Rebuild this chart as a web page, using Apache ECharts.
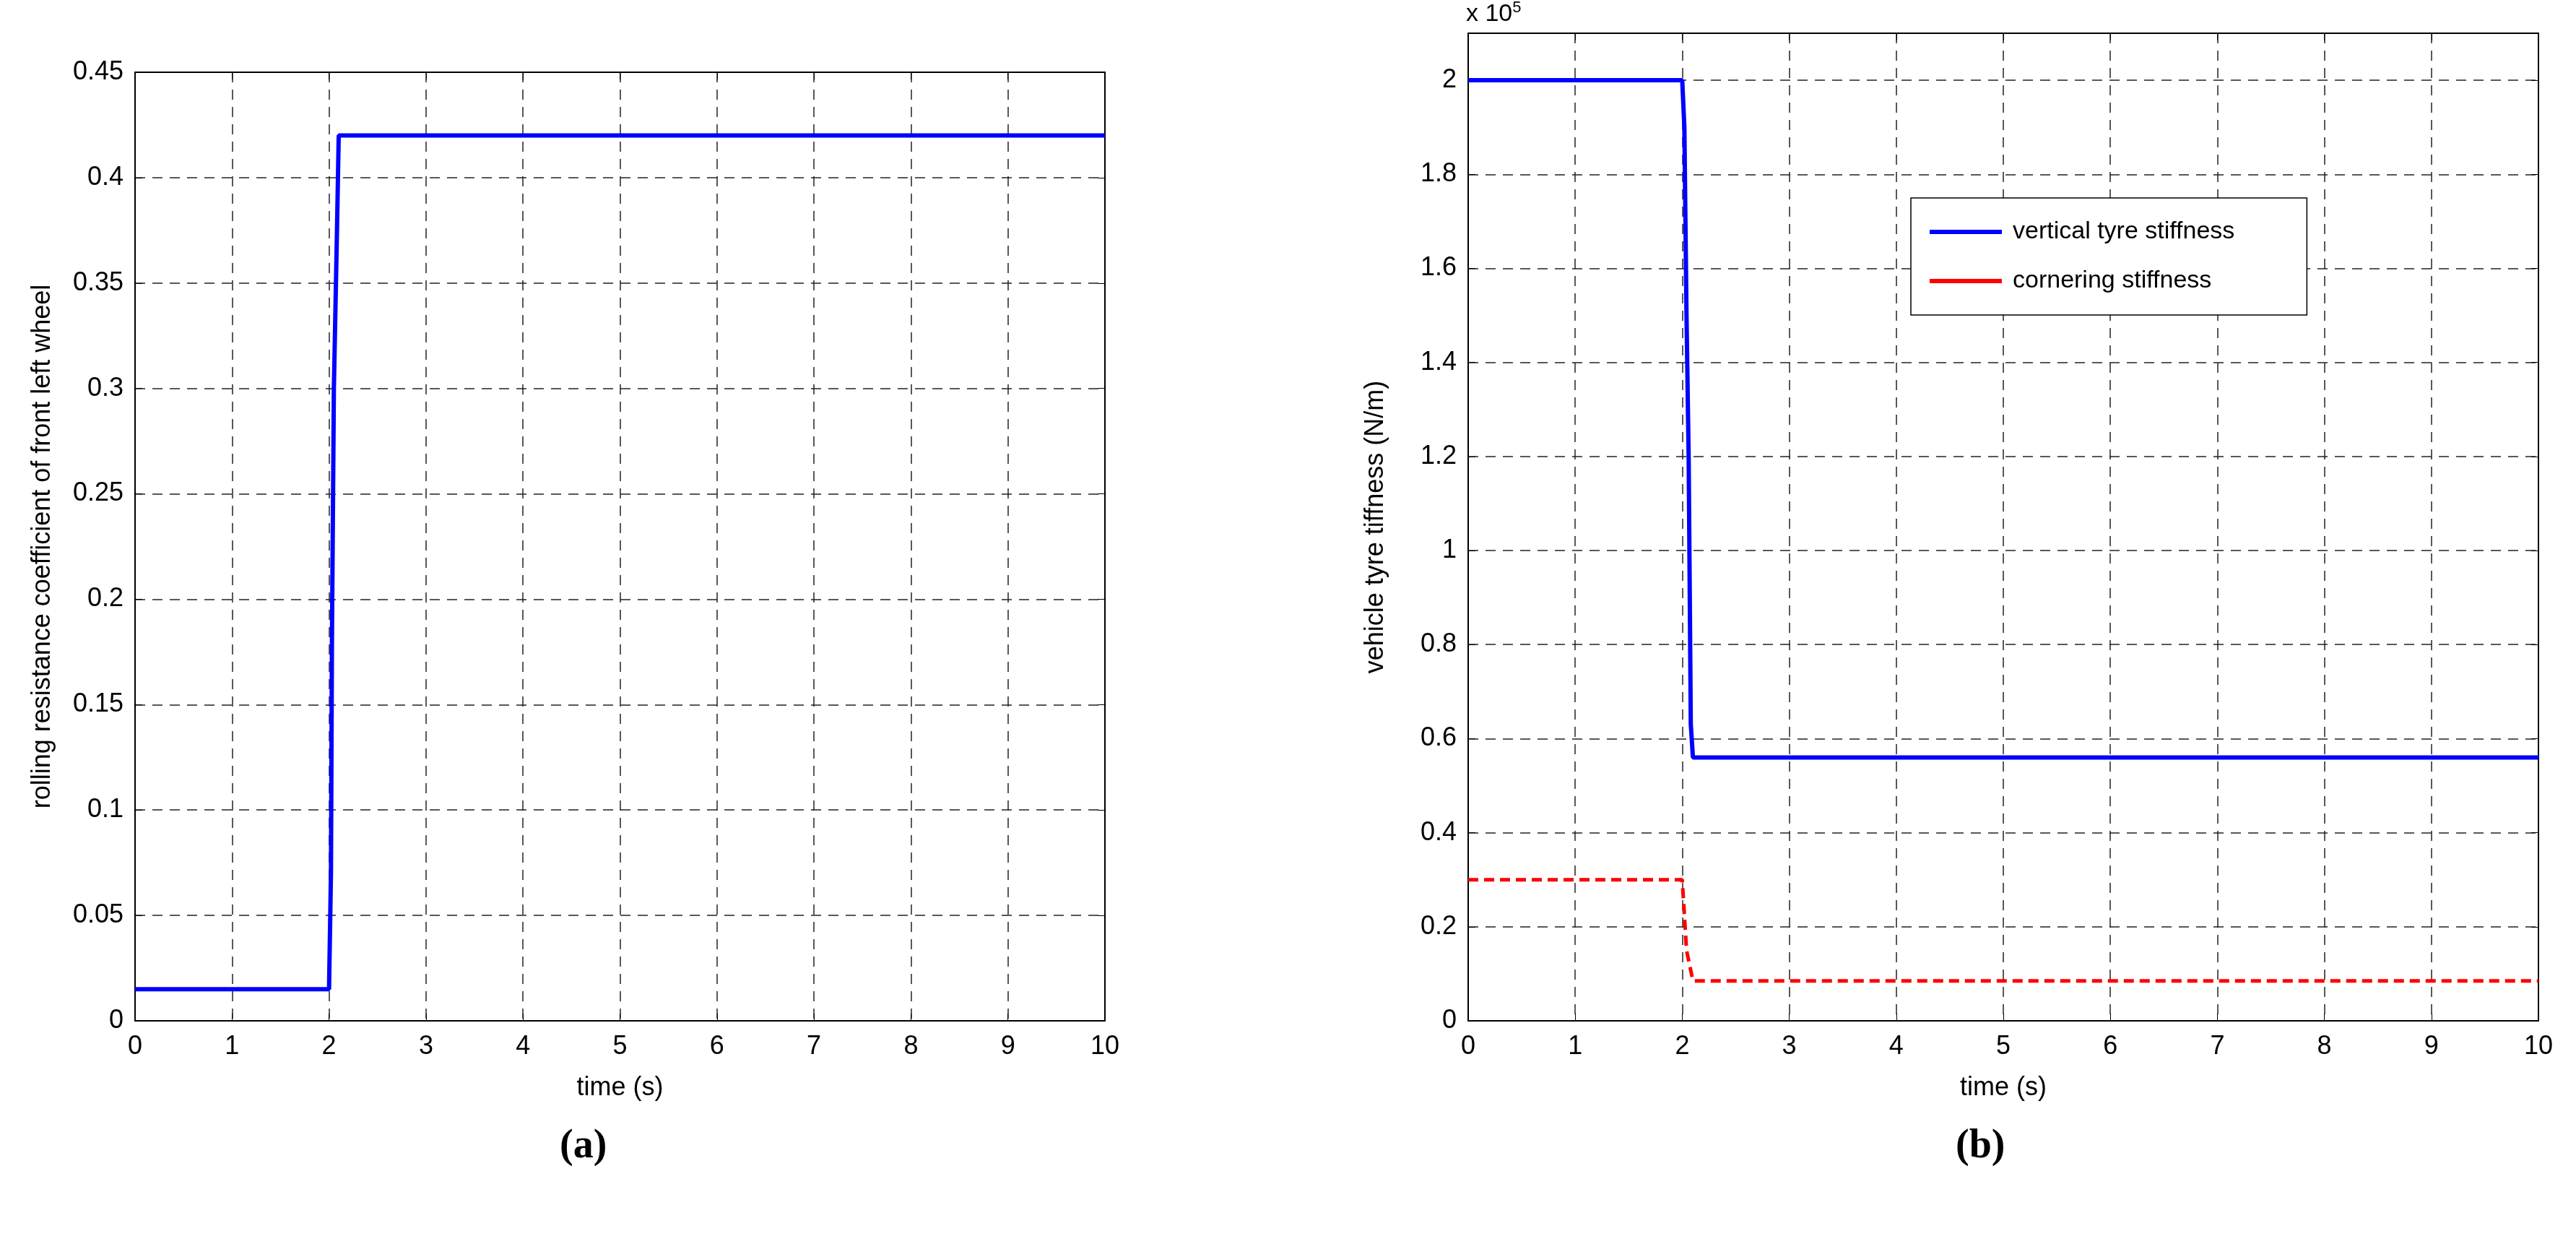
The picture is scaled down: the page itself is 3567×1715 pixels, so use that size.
<!DOCTYPE html>
<html>
<head>
<meta charset="utf-8">
<script src="https://cdn.jsdelivr.net/npm/echarts@6/dist/echarts.min.js"></script>
<style>html,body{margin:0;background:#fff}#main{width:3567px;height:1715px}</style>
</head>
<body>
<div id="main"></div>
<script>
// data
var rollingCoef = [[0,0.015],[2,0.015],[2.02,0.07],[2.03,0.18],[2.05,0.3],[2.08,0.37],[2.1,0.42],[10,0.42]];
var verticalStiff = [[0,2.0],[2,2.0],[2.02,1.9],[2.04,1.5],[2.06,1.2],[2.08,0.63],[2.1,0.56],[10,0.56]];
var corneringStiff = [[0,0.3],[2,0.3],[2.04,0.15],[2.1,0.085],[10,0.085]];
var xTicks = [0,1,2,3,4,5,6,7,8,9,10];

var font = 'Liberation Sans';
var gridLine = {show:true, lineStyle:{color:'#222', type:[14,10], width:1.5}};
function xAxis(gi){
  return [{gridIndex:gi, type:'value', min:0, max:10, interval:1, position:'bottom',
    axisLine:{onZero:false,lineStyle:{color:'#000',width:2}}, axisTick:{inside:true,length:10,lineStyle:{color:'#000'}},
    axisLabel:{color:'#000',fontSize:36,fontFamily:font,margin:18}, splitLine:gridLine,
    name:'time (s)', nameLocation:'middle', nameGap:75, nameTextStyle:{color:'#000',fontSize:36,fontFamily:font}},
   {gridIndex:gi, type:'value', min:0, max:10, interval:1, position:'top',
    axisLine:{onZero:false,lineStyle:{color:'#000',width:2}}, axisTick:{inside:true,length:10,lineStyle:{color:'#000'}},
    axisLabel:{show:false}, splitLine:{show:false}}];
}
function yAxis(gi,max,interval,name,fmt){
  return [{gridIndex:gi, type:'value', min:0, max:max, interval:interval, position:'left',
    axisLine:{onZero:false,lineStyle:{color:'#000',width:2}}, axisTick:{inside:true,length:10,lineStyle:{color:'#000'}},
    axisLabel:{color:'#000',fontSize:36,fontFamily:font,margin:16,formatter:fmt}, splitLine:gridLine,
    name:name, nameLocation:'middle', nameGap:110, nameRotate:90, nameTextStyle:{color:'#000',fontSize:36,fontFamily:font}},
   {gridIndex:gi, type:'value', min:0, max:max, interval:interval, position:'right',
    axisLine:{onZero:false,lineStyle:{color:'#000',width:2}}, axisTick:{inside:true,length:10,lineStyle:{color:'#000'}},
    axisLabel:{show:false}, splitLine:{show:false}}];
}
var chart = echarts.init(document.getElementById('main'));
chart.setOption({
  animation:false,
  grid:[{left:187,top:100,width:1343,height:1313},{left:2033,top:46,width:1482,height:1367}],
  xAxis: xAxis(0).concat(xAxis(1)),
  yAxis: yAxis(0,0.45,0.05,'rolling resistance coefficient of front left wheel',function(v){return +v.toFixed(2)+'';})
    .concat(yAxis(1,2.1,0.2,'vehicle tyre tiffness (N/m)',function(v){return v>2.05?'':+v.toFixed(1)+'';})),
  legend:{data:['vertical tyre stiffness','cornering stiffness'], orient:'vertical', left:2646, top:274,
    backgroundColor:'#fff', borderColor:'#000', borderWidth:1.5, padding:[30,100,30,26], itemGap:34,
    itemWidth:100, itemHeight:6, icon:'rect', textStyle:{fontSize:34,fontFamily:font,color:'#000',padding:[0,0,0,10]}},
  graphic:[
    {type:'text', left:2030, top:0, style:{rich:{a:{fontSize:34,fontFamily:font},b:{fontSize:22,fontFamily:font,verticalAlign:'top',padding:[0,0,18,0]}}, text:'{a|x 10}{b|5}', fill:'#000'}},
    {type:'text', left:775, top:1560, style:{text:'(a)', font:'bold 56px "Liberation Serif"', fill:'#000'}},
    {type:'text', left:2708, top:1560, style:{text:'(b)', font:'bold 56px "Liberation Serif"', fill:'#000'}}
  ],
  series:[
    {type:'line', xAxisIndex:0, yAxisIndex:0, data:rollingCoef, showSymbol:false, lineStyle:{color:'#0000ff',width:6}},
    {name:'vertical tyre stiffness', type:'line', xAxisIndex:2, yAxisIndex:2, data:verticalStiff, showSymbol:false, itemStyle:{color:'#0000ff'}, lineStyle:{color:'#0000ff',width:6}},
    {name:'cornering stiffness', type:'line', xAxisIndex:2, yAxisIndex:2, data:corneringStiff, showSymbol:false, itemStyle:{color:'#ff0000'}, lineStyle:{color:'#ff0000',width:5,type:[14,8]}}
  ]
});
</script>
</body>
</html>
